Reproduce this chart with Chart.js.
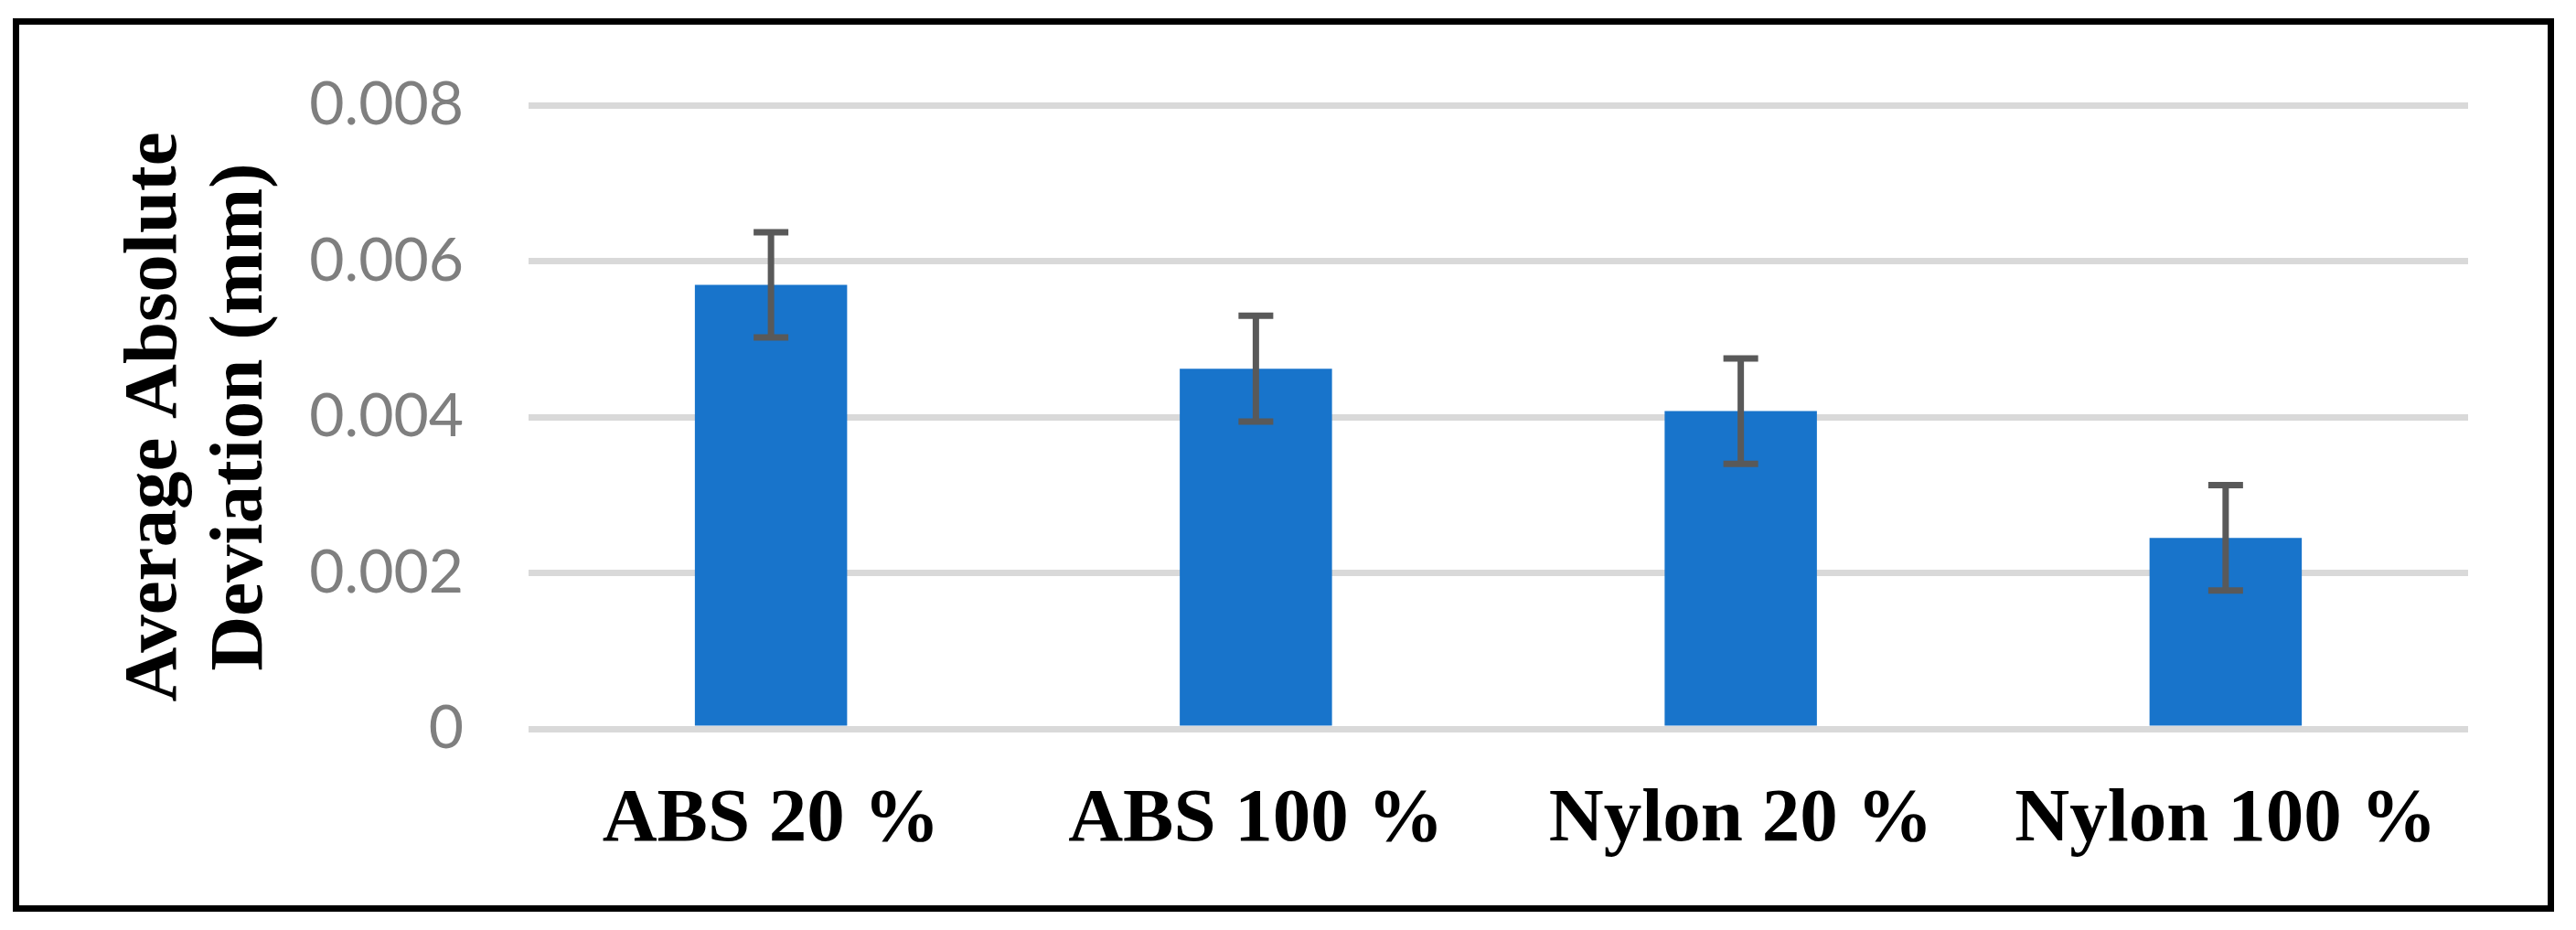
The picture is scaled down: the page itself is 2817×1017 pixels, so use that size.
<!DOCTYPE html>
<html>
<head>
<meta charset="utf-8">
<script src="https://cdn.jsdelivr.net/npm/chart.js@4/dist/chart.umd.min.js"></script>
<style>
    body { margin: 0; background: #fff; }
    #grafico { display: block; }
</style>
</head>
<body>
<canvas id="grafico" width="2817" height="1017"></canvas>
<script>
// dados do gráfico
const categorias = ['ABS 20 %', 'ABS 100 %', 'Nylon 20 %', 'Nylon 100 %'];
const desvios = [0.005695, 0.00462, 0.004075, 0.00245];
const erros = [0.000675, 0.00068, 0.000675, 0.000675];
const ticksY = [0, 0.002, 0.004, 0.006, 0.008];
const tituloY = ['Average Absolute', 'Deviation (mm)'];

// barras de erro desenhadas por cima das barras
const barrasErro = {
    id: 'barrasErro',
    afterDatasetsDraw(chart) {
        const ctx = chart.ctx;
        const y = chart.scales.y;
        const meta = chart.getDatasetMeta(0);
        ctx.save();
        ctx.strokeStyle = '#595959';
        ctx.lineWidth = 7;
        ctx.lineCap = 'butt';
        meta.data.forEach((barra, i) => {
            const topo = y.getPixelForValue(desvios[i] + erros[i]);
            const base = y.getPixelForValue(desvios[i] - erros[i]);
            const x = barra.x;
            ctx.beginPath();
            ctx.moveTo(x, topo);
            ctx.lineTo(x, base);
            ctx.moveTo(x - 19, topo);
            ctx.lineTo(x + 19, topo);
            ctx.moveTo(x - 19, base);
            ctx.lineTo(x + 19, base);
            ctx.stroke();
        });
        ctx.restore();
    }
};

// moldura preta em volta da figura
const moldura = {
    id: 'moldura',
    afterDraw(chart) {
        const ctx = chart.ctx;
        ctx.save();
        ctx.strokeStyle = '#000';
        ctx.lineWidth = 7;
        ctx.strokeRect(17.5, 23.5, 2772, 970);
        ctx.restore();
    }
};

const ctx = document.getElementById('grafico').getContext('2d');
new Chart(ctx, {
    type: 'bar',
    data: {
        labels: categorias,
        datasets: [{
            data: desvios,
            backgroundColor: '#1874CB',
            borderWidth: 0,
            categoryPercentage: 1,
            barPercentage: 0.314
        }]
    },
    options: {
        responsive: false,
        animation: false,
        layout: {
            padding: { left: 24, top: 115, right: 118, bottom: 80 }
        },
        plugins: {
            legend: { display: false },
            tooltip: { enabled: false }
        },
        scales: {
            x: {
                grid: { display: false, drawTicks: false },
                border: { display: false },
                ticks: {
                    color: '#000',
                    padding: 51,
                    font: { family: 'Liberation Serif', size: 83, weight: 'bold' }
                },
                afterFit(scale) { scale.height = 140; }
            },
            y: {
                min: 0,
                max: 0.008,
                afterBuildTicks(scale) {
                    scale.ticks = ticksY.map(v => ({ value: v }));
                },
                grid: { color: '#D9D9D9', lineWidth: 7, drawTicks: false },
                border: { display: false },
                ticks: {
                    color: '#7F7F7F',
                    padding: 71,
                    font: { family: 'Lato', size: 66 },
                    callback: v => String(v)
                },
                title: {
                    display: true,
                    text: tituloY,
                    color: '#000',
                    padding: { top: 100, bottom: 0 },
                    font: { family: 'Liberation Serif', size: 83, weight: 'bold', lineHeight: 1.13 }
                },
                afterFit(scale) { scale.width = 554; }
            }
        }
    },
    plugins: [barrasErro, moldura]
});
</script>
</body>
</html>
